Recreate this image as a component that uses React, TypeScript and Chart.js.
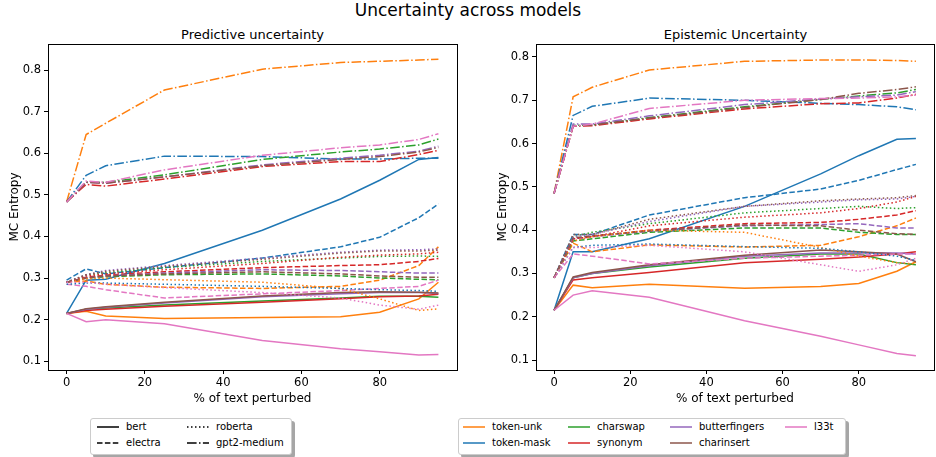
import React, { useEffect, useRef } from "react";
import { Chart, registerables } from "chart.js";
Chart.register(...registerables);

// ---------- data ----------
const PERCENT = [0, 5, 10, 25, 50, 70, 80, 90, 95];
const X_TICKS = [0, 20, 40, 60, 80];
const Y_TICKS = [0.1, 0.2, 0.3, 0.4, 0.5, 0.6, 0.7, 0.8];

const PERTURBATIONS = ["token-unk", "token-mask", "charswap", "synonym", "butterfingers", "charinsert", "l33t"];
const MODELS = ["bert", "electra", "roberta", "gpt2-medium"];
const COLORS = ["#ff7f0e", "#1f77b4", "#2ca02c", "#d62728", "#9467bd", "#8c564b", "#e377c2"];

// rows follow PERTURBATIONS order, columns follow PERCENT
const PRED_BERT = [
  [0.215, 0.220, 0.209, 0.203, 0.205, 0.207, 0.218, 0.250, 0.290],
  [0.215, 0.295, 0.297, 0.335, 0.415, 0.490, 0.535, 0.585, 0.590],
  [0.215, 0.225, 0.228, 0.235, 0.245, 0.252, 0.256, 0.256, 0.254],
  [0.215, 0.222, 0.225, 0.232, 0.242, 0.250, 0.255, 0.257, 0.261],
  [0.215, 0.225, 0.230, 0.240, 0.255, 0.262, 0.265, 0.265, 0.263],
  [0.215, 0.226, 0.231, 0.242, 0.257, 0.265, 0.267, 0.266, 0.264],
  [0.215, 0.195, 0.200, 0.190, 0.150, 0.130, 0.123, 0.115, 0.116],
];
const PRED_ELECTRA = [
  [0.290, 0.293, 0.285, 0.278, 0.275, 0.280, 0.295, 0.330, 0.375],
  [0.295, 0.322, 0.310, 0.325, 0.348, 0.375, 0.398, 0.445, 0.478],
  [0.290, 0.300, 0.303, 0.308, 0.310, 0.305, 0.300, 0.297, 0.296],
  [0.290, 0.302, 0.307, 0.315, 0.325, 0.330, 0.332, 0.340, 0.347],
  [0.290, 0.300, 0.305, 0.312, 0.320, 0.318, 0.315, 0.312, 0.312],
  [0.290, 0.300, 0.305, 0.310, 0.315, 0.310, 0.305, 0.302, 0.302],
  [0.285, 0.280, 0.272, 0.252, 0.262, 0.270, 0.275, 0.280, 0.295],
];
const PRED_ROBERTA = [
  [0.290, 0.298, 0.300, 0.296, 0.290, 0.275, 0.250, 0.222, 0.226],
  [0.285, 0.288, 0.288, 0.285, 0.280, 0.275, 0.272, 0.270, 0.268],
  [0.290, 0.307, 0.313, 0.325, 0.340, 0.348, 0.352, 0.353, 0.352],
  [0.290, 0.305, 0.310, 0.320, 0.335, 0.350, 0.355, 0.358, 0.362],
  [0.290, 0.308, 0.318, 0.330, 0.348, 0.362, 0.367, 0.368, 0.370],
  [0.290, 0.308, 0.316, 0.328, 0.345, 0.360, 0.365, 0.365, 0.367],
  [0.290, 0.290, 0.285, 0.277, 0.265, 0.252, 0.235, 0.225, 0.235],
];
const PRED_GPT2 = [
  [0.483, 0.645, 0.672, 0.752, 0.802, 0.818, 0.821, 0.824, 0.826],
  [0.483, 0.547, 0.570, 0.593, 0.592, 0.586, 0.586, 0.588, 0.588],
  [0.483, 0.530, 0.530, 0.548, 0.585, 0.603, 0.610, 0.620, 0.634],
  [0.483, 0.525, 0.521, 0.538, 0.568, 0.580, 0.580, 0.597, 0.607],
  [0.483, 0.530, 0.528, 0.543, 0.572, 0.588, 0.595, 0.605, 0.617],
  [0.483, 0.530, 0.528, 0.543, 0.570, 0.585, 0.592, 0.603, 0.614],
  [0.483, 0.533, 0.530, 0.560, 0.595, 0.613, 0.620, 0.633, 0.647],
];

const EPI_BERT = [
  [0.215, 0.273, 0.267, 0.275, 0.266, 0.270, 0.277, 0.305, 0.327],
  [0.215, 0.350, 0.350, 0.380, 0.455, 0.530, 0.572, 0.610, 0.612],
  [0.215, 0.290, 0.300, 0.315, 0.335, 0.345, 0.345, 0.325, 0.320],
  [0.215, 0.285, 0.290, 0.302, 0.325, 0.333, 0.338, 0.345, 0.350],
  [0.215, 0.290, 0.300, 0.318, 0.340, 0.347, 0.347, 0.347, 0.345],
  [0.215, 0.292, 0.302, 0.320, 0.342, 0.354, 0.350, 0.345, 0.327],
  [0.215, 0.250, 0.260, 0.245, 0.191, 0.155, 0.135, 0.115, 0.110],
];
const EPI_ELECTRA = [
  [0.290, 0.370, 0.350, 0.366, 0.361, 0.365, 0.385, 0.410, 0.428],
  [0.290, 0.390, 0.390, 0.435, 0.475, 0.495, 0.515, 0.540, 0.552],
  [0.290, 0.375, 0.380, 0.395, 0.405, 0.405, 0.395, 0.390, 0.390],
  [0.290, 0.380, 0.385, 0.400, 0.415, 0.418, 0.425, 0.435, 0.445],
  [0.290, 0.380, 0.385, 0.398, 0.410, 0.413, 0.415, 0.405, 0.405],
  [0.290, 0.382, 0.387, 0.398, 0.412, 0.410, 0.400, 0.392, 0.390],
  [0.290, 0.345, 0.340, 0.322, 0.335, 0.340, 0.342, 0.345, 0.345],
];
const EPI_ROBERTA = [
  [0.290, 0.375, 0.385, 0.400, 0.395, 0.360, 0.340, 0.325, 0.322],
  [0.290, 0.360, 0.365, 0.368, 0.362, 0.358, 0.350, 0.340, 0.330],
  [0.290, 0.385, 0.395, 0.415, 0.440, 0.450, 0.455, 0.450, 0.452],
  [0.290, 0.380, 0.385, 0.410, 0.430, 0.440, 0.450, 0.465, 0.478],
  [0.290, 0.385, 0.390, 0.420, 0.455, 0.465, 0.470, 0.472, 0.478],
  [0.290, 0.390, 0.390, 0.425, 0.455, 0.468, 0.472, 0.475, 0.480],
  [0.290, 0.360, 0.360, 0.365, 0.350, 0.320, 0.305, 0.320, 0.335],
];
const EPI_GPT2 = [
  [0.485, 0.708, 0.730, 0.770, 0.790, 0.793, 0.793, 0.792, 0.790],
  [0.485, 0.665, 0.686, 0.705, 0.700, 0.693, 0.690, 0.685, 0.678],
  [0.485, 0.642, 0.643, 0.660, 0.685, 0.702, 0.710, 0.717, 0.725],
  [0.485, 0.640, 0.641, 0.657, 0.680, 0.692, 0.694, 0.705, 0.714],
  [0.485, 0.645, 0.645, 0.664, 0.690, 0.703, 0.708, 0.712, 0.720],
  [0.485, 0.640, 0.643, 0.659, 0.683, 0.702, 0.716, 0.725, 0.731],
  [0.485, 0.640, 0.645, 0.681, 0.700, 0.704, 0.705, 0.708, 0.712],
];

const DASHES: number[][] = [[], [5.5, 2.4], [1.5, 2.5], [9.6, 2.4, 1.5, 2.4]];
const FONT = "DejaVu Sans";

// ---------- chart ----------
const framePlugin = {
  id: "frame",
  afterDraw(chart: any) {
    const { ctx, chartArea: a } = chart;
    ctx.save();
    ctx.strokeStyle = "#000";
    ctx.lineWidth = 1;
    ctx.strokeRect(Math.round(a.left) + 0.5, Math.round(a.top) + 0.5, Math.round(a.right - a.left), Math.round(a.bottom - a.top));
    ctx.restore();
  },
};

function buildDatasets(byModel: number[][][]) {
  const ds: any[] = [];
  let idx = 0;
  const total = MODELS.length * PERTURBATIONS.length;
  byModel.forEach((rows, m) => {
    rows.forEach((vals, p) => {
      ds.push({
        label: `${MODELS[m]} ${PERTURBATIONS[p]}`,
        data: PERCENT.map((x, i) => ({ x, y: vals[i] })),
        borderColor: COLORS[p],
        backgroundColor: COLORS[p],
        borderWidth: 1.5,
        borderDash: DASHES[m],
        pointRadius: 0,
        tension: 0,
        fill: false,
        order: total - idx,
      });
      idx++;
    });
  });
  return ds;
}

function Panel(props: { byModel: number[][][]; yMin: number; yMax: number; padLeft: number; padRight: number; left: number }) {
  const ref = useRef<HTMLCanvasElement | null>(null);
  useEffect(() => {
    if (!ref.current) return;
    const chart = new Chart(ref.current, {
      type: "line",
      data: { datasets: buildDatasets(props.byModel) },
      options: {
        animation: false,
        responsive: false,
        maintainAspectRatio: false,
        layout: { padding: { top: 44, left: props.padLeft, right: props.padRight, bottom: 0 } },
        plugins: { legend: { display: false }, tooltip: { enabled: false }, title: { display: false } },
        scales: {
          x: {
            type: "linear",
            min: -4.75,
            max: 99.75,
            afterBuildTicks: (s: any) => {
              s.ticks = X_TICKS.map((v) => ({ value: v }));
            },
            afterFit: (s: any) => {
              s.height = 40;
            },
            grid: { drawOnChartArea: false, drawTicks: true, tickLength: 4, color: "#000", tickColor: "#000" },
            border: { display: true, color: "#000" },
            ticks: { color: "#000", font: { family: FONT, size: 11.5 }, padding: 2, maxRotation: 0, autoSkip: false, callback: (v: any) => String(v) },
            title: { display: true, text: "% of text perturbed", color: "#000", font: { family: FONT, size: 12 }, padding: { top: 0, bottom: 4 } },
          },
          y: {
            type: "linear",
            min: props.yMin,
            max: props.yMax,
            afterBuildTicks: (s: any) => {
              s.ticks = Y_TICKS.map((v) => ({ value: v }));
            },
            afterFit: (s: any) => {
              s.width = 48;
            },
            grid: { drawOnChartArea: false, drawTicks: true, tickLength: 4, color: "#000", tickColor: "#000" },
            border: { display: true, color: "#000" },
            ticks: { color: "#000", font: { family: FONT, size: 11.5 }, padding: 3, autoSkip: false, callback: (v: any) => Number(v).toFixed(1) },
            title: { display: true, text: "MC Entropy", color: "#000", font: { family: FONT, size: 12 }, padding: { top: 7.5, bottom: 0 } },
          },
        },
      },
      plugins: [framePlugin],
    } as any);
    return () => chart.destroy();
  }, []);
  return (
    <canvas
      ref={ref}
      width={468}
      height={410}
      style={{ position: "absolute", left: props.left, top: 0, width: 468, height: 410, display: "block" }}
    />
  );
}

function Handle(props: { color: string; dash: number[] }) {
  return (
    <svg width={22} height={8} style={{ display: "block" }}>
      <line x1={0} y1={4} x2={22} y2={4} stroke={props.color} strokeWidth={1.5} strokeDasharray={props.dash.length ? props.dash.join(",") : undefined} />
    </svg>
  );
}

function LegendItem(props: { x: number; y: number; color: string; dash: number[]; label: string }) {
  return (
    <div style={{ position: "absolute", left: props.x, top: props.y - 7, height: 14, display: "flex", alignItems: "center", whiteSpace: "nowrap" }}>
      <Handle color={props.color} dash={props.dash} />
      <span style={{ marginLeft: 7, fontSize: 10, lineHeight: "14px", color: "#000" }}>{props.label}</span>
    </div>
  );
}

const boxStyle: React.CSSProperties = {
  position: "absolute",
  background: "#fff",
  border: "1px solid #cccccc",
  borderRadius: 3,
  boxShadow: "3px 3px 0 rgba(0,0,0,0.35)",
};

export default function App() {
  const text: React.CSSProperties = { position: "absolute", color: "#000", whiteSpace: "nowrap", transform: "translate(-50%, -50%)" };
  const leftCols = [97, 187];
  const rightCols = [463, 568, 670, 785];
  const rows = [427, 443];
  return (
    <div style={{ position: "fixed", left: 0, top: 0, width: 936, height: 457, background: "#fff", fontFamily: FONT, overflow: "hidden" }}>
      <div style={{ ...text, left: 468, top: 10, fontSize: 17 }}>Uncertainty across models</div>
      <div style={{ ...text, left: 252.5, top: 34, fontSize: 13 }}>Predictive uncertainty</div>
      <div style={{ ...text, left: 735.5, top: 34, fontSize: 13 }}>Epistemic Uncertainty</div>
      <Panel byModel={[PRED_BERT, PRED_ELECTRA, PRED_ROBERTA, PRED_GPT2]} yMin={0.079} yMax={0.8625} padLeft={0} padRight={11} left={0} />
      <Panel byModel={[EPI_BERT, EPI_ELECTRA, EPI_ROBERTA, EPI_GPT2]} yMin={0.077} yMax={0.83} padLeft={20} padRight={2} left={468} />
      <div style={{ ...boxStyle, left: 90, top: 418, width: 200, height: 35 }} />
      {MODELS.map((m, i) => (
        <LegendItem key={m} x={leftCols[Math.floor(i / 2)]} y={rows[i % 2]} color="#000" dash={DASHES[i]} label={m} />
      ))}
      <div style={{ ...boxStyle, left: 458, top: 418, width: 386, height: 35 }} />
      {PERTURBATIONS.map((p, i) => (
        <LegendItem key={p} x={rightCols[Math.floor(i / 2)]} y={rows[i % 2]} color={COLORS[i]} dash={[]} label={p} />
      ))}
    </div>
  );
}
